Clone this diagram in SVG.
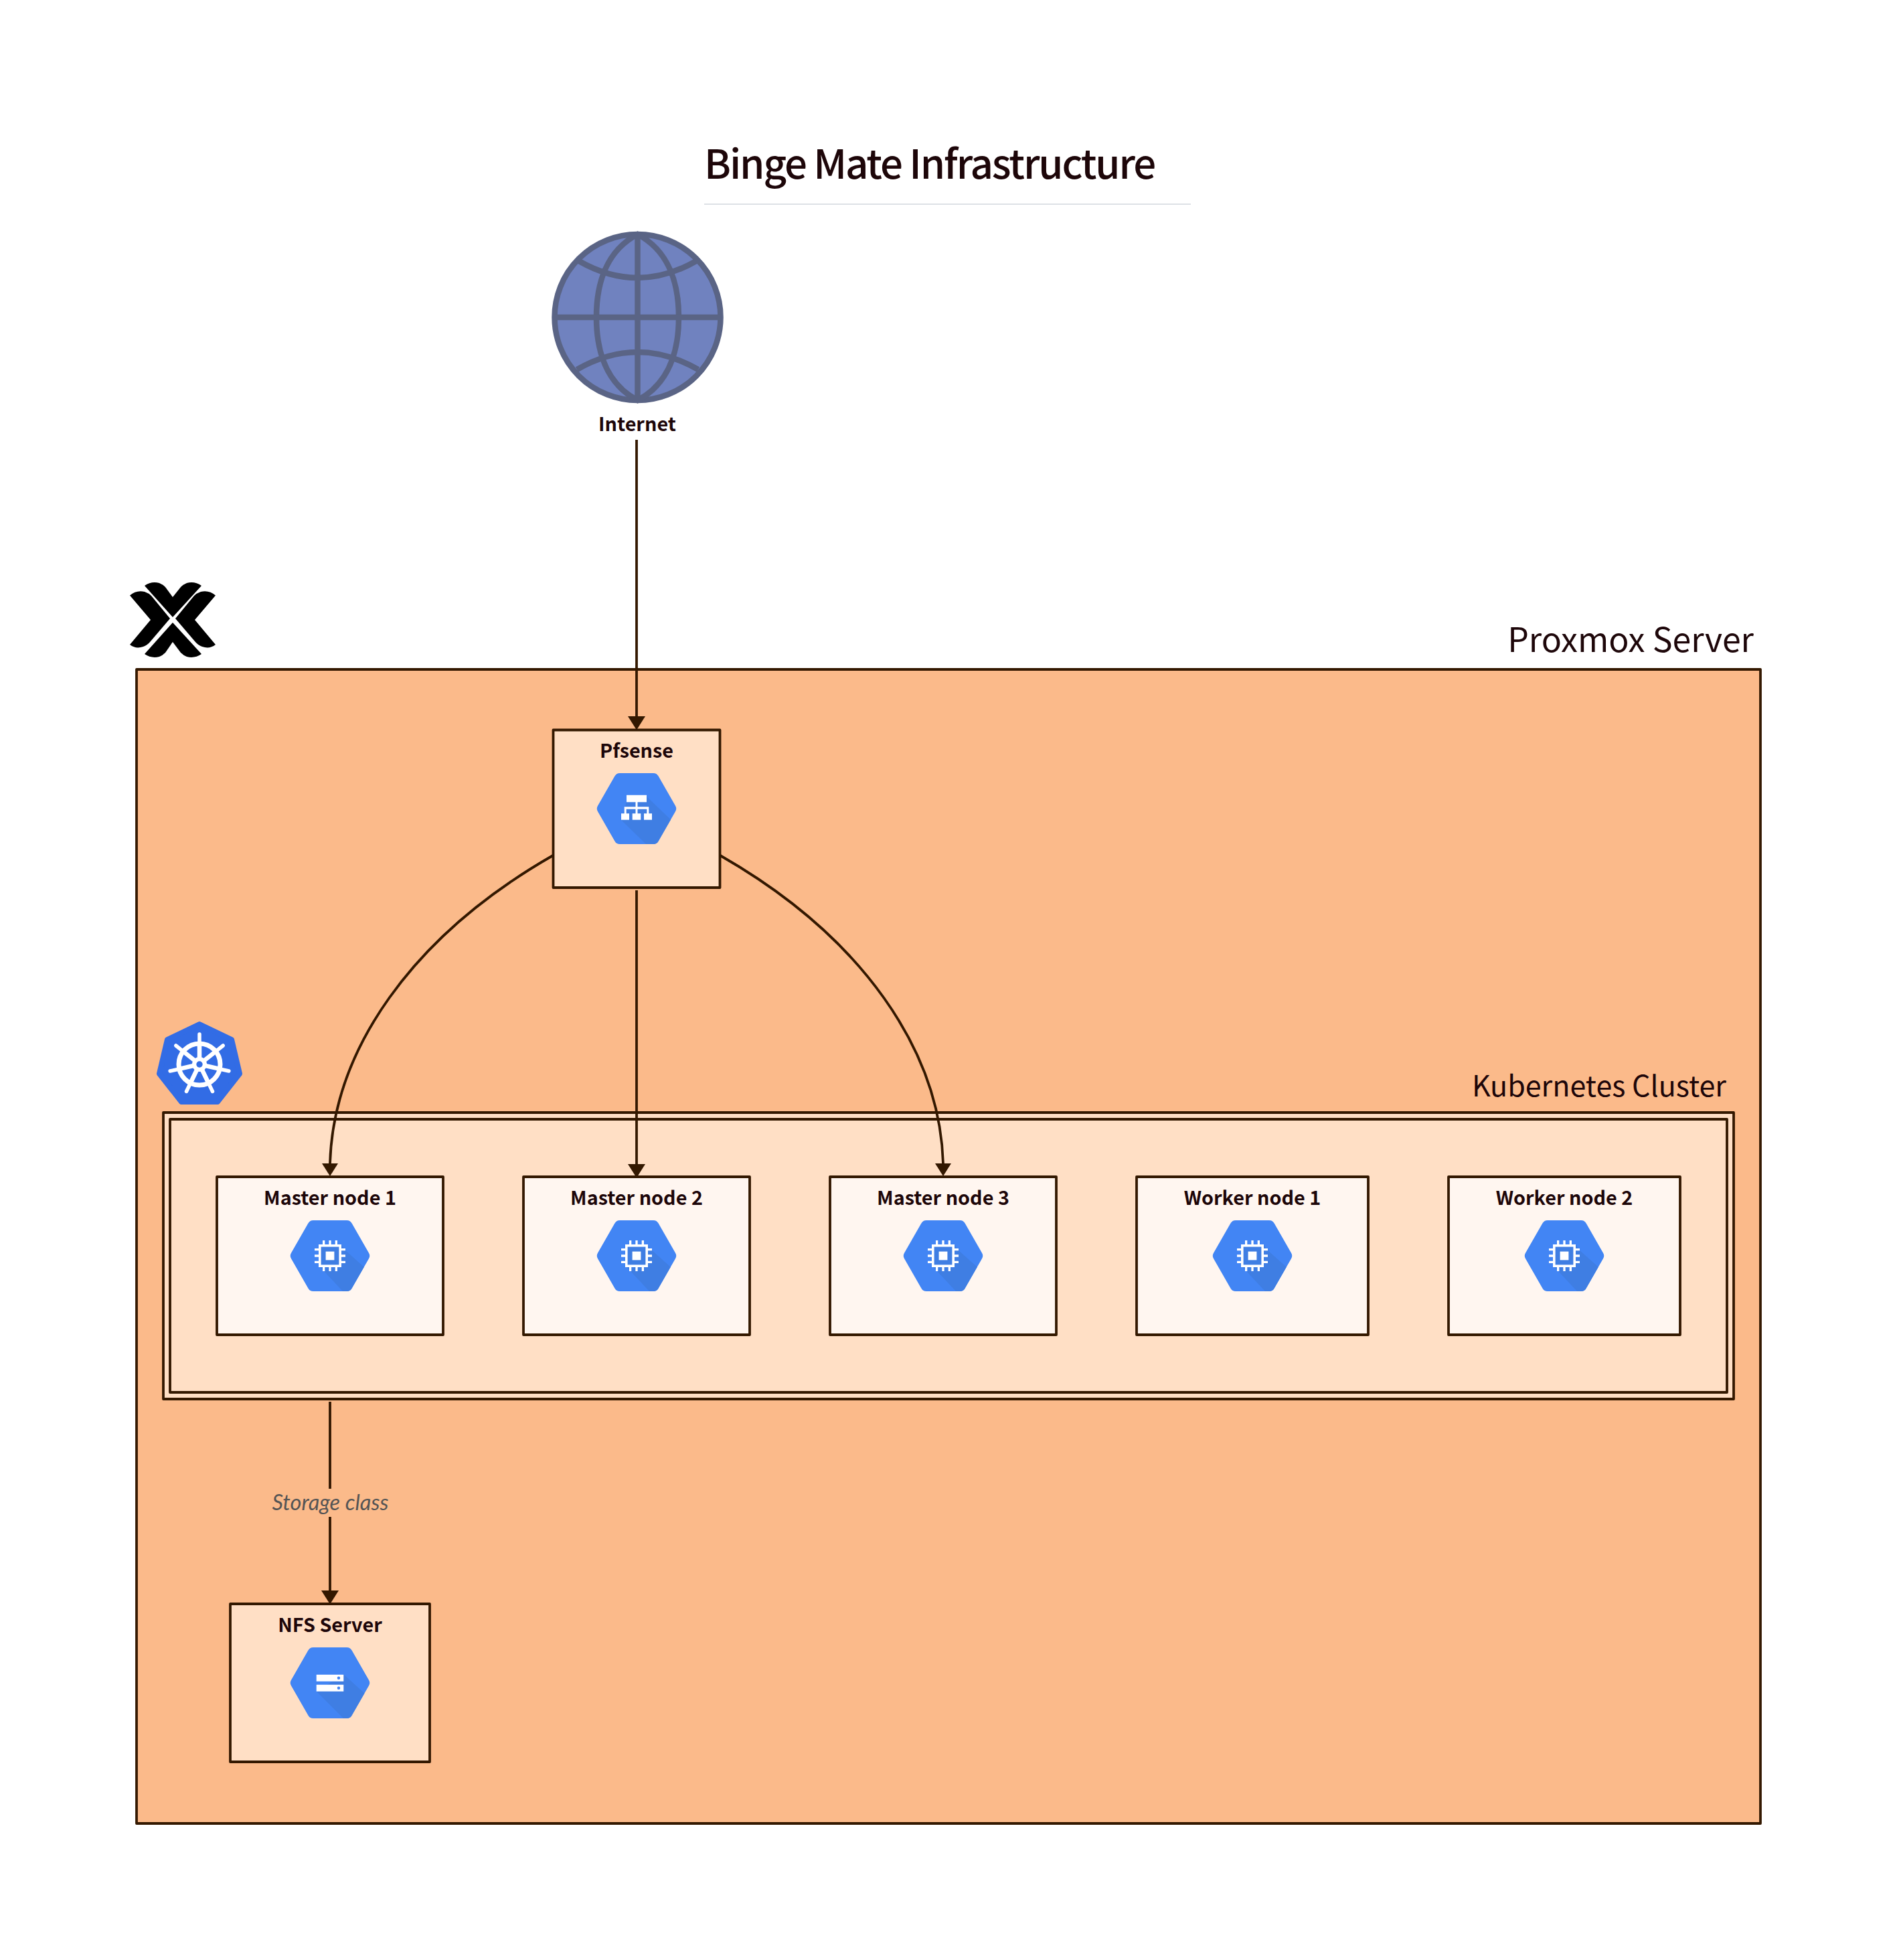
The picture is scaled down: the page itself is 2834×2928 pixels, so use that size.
<svg xmlns="http://www.w3.org/2000/svg" xmlns:xlink="http://www.w3.org/1999/xlink" width="2834" height="2928" viewBox="0 0 2834 2928">
<style>
text{font-family:"Noto Sans CJK SC","Noto Sans",sans-serif;fill:#1d0609}
.n{font-size:28.8px;font-weight:700;text-anchor:middle}
.box{stroke:#331800;stroke-width:3.8;stroke-linejoin:round}
.big{font-weight:400;text-anchor:end}
.c{fill:none;stroke:#331800;stroke-width:3.8}
.h{fill:#4285f4}.s{fill:#3f7ee3}.w{fill:#fff}
</style>
<defs>
<marker id="a" markerUnits="userSpaceOnUse" markerWidth="24" markerHeight="26" refX="0" refY="12" orient="auto" viewBox="0 0 20 24"><path d="M0,0L19,12L0,24Z" fill="#331800"/></marker>
<marker id="d" markerUnits="userSpaceOnUse" markerWidth="24" markerHeight="26" refX="12" refY="0" orient="0" viewBox="0 0 24 20"><path d="M0,0H24L12,19Z" fill="#331800"/></marker>
<path id="hex" d="M-58,-4.3L-32.5,-48.7Q-30,-53-25,-53L25,-53Q30,-53 32.5,-48.7L58,-4.3Q60.5,0 58,4.3L32.5,48.7Q30,53 25,53L-25,53Q-30,53-32.5,48.7L-58,4.3Q-60.5,0-58,-4.3Z"/>
<clipPath id="hc"><use xlink:href="#hex"/></clipPath>
<g id="chip">
<use xlink:href="#hex" class="h"/>
<path class="s" clip-path="url(#hc)" d="M17,-17L22,-9L60,25L31,60L19,53L-8,24L-15,17Z"/>
<rect x="-15.2" y="-15.2" width="30.4" height="30.4" fill="#3f7ee3" stroke="#fff" stroke-width="3.6"/>
<rect x="-6.4" y="-6.4" width="12.8" height="12.8" class="w"/>
<path class="w" d="M-11,-23h3.3v6h-3.3zM-1.65,-23h3.3v6h-3.3zM7.7,-23h3.3v6h-3.3zM-11,17h3.3v6h-3.3zM-1.65,17h3.3v6h-3.3zM7.7,17h3.3v6h-3.3zM-23,-11h6v3.3h-6zM-23,-1.65h6v3.3h-6zM-23,7.7h6v3.3h-6zM17,-11h6v3.3h-6zM17,-1.65h6v3.3h-6zM17,7.7h6v3.3h-6z"/>
</g>
</defs>

<rect width="2834" height="2928" fill="#fff"/>

<g id="title">
<text x="1052" y="267" font-size="60" font-weight="500" letter-spacing="-2.1">Binge Mate Infrastructure</text>
<path d="M1052,305H1779" stroke="#dde1e6" stroke-width="2"/>
</g>

<g id="internet">
<g fill="none" stroke="#5a6485" stroke-width="8.5">
<circle cx="952.5" cy="474" r="124" fill="#7082bf"/>
<path d="M952.5,350C905,375 891,425 891,474C891,523 905,573 952.5,598C1000,573 1014,523 1014,474C1014,425 1000,375 952.5,350Z"/>
<path d="M952.5,350V598M828,474H1077M865,390Q952.5,440 1040,390M862,552Q952.5,500 1043,552"/>
</g>
<text class="n" x="952" y="643.5">Internet</text>
</g>

<g id="proxmox-server">
<rect class="box" x="204" y="1000" width="2426" height="1724" fill="#fbba8a"/>
<text class="big" x="2620" y="974" font-size="50">Proxmox Server</text>
<g id="proxmox-logo" fill="#000">
<path d="M194,889.5Q204,881 216,884Q222,886 226,890L254,924L225,958Q220,964 214,966Q203,970 194,963L225,926Z"/>
<path d="M322,889.5Q312,881 300,884Q294,886 290,890L262,924L291,958Q296,964 302,966Q313,970 322,963L291,926Z"/>
<path d="M216,875Q226,868 238,871Q243,873 247,877L258,892L270,877Q274,873 279,871Q291,868 301,875L258,922Z"/>
<path d="M216,977Q226,984 238,981Q243,979 247,975L258,959L270,975Q274,979 279,981Q291,984 301,977L258,930Z"/>
</g>
</g>

<g id="pfsense">
<rect class="box" x="826.5" y="1090.5" width="249" height="235.5" fill="#ffdfc5"/>
<text class="n" x="951" y="1132">Pfsense</text>
<g transform="translate(951,1208)">
<use xlink:href="#hex" class="h"/>
<path class="s" clip-path="url(#hc)" d="M14,-19L62,27L31,60L14,53L-23,17L-15,-10Z"/>
<path class="w" d="M-15,-20.3H15V-9.7H1.5V-2.7H18.3V7.3H23V16.7H11V7.3H15.3V0.7H1.5V7.3H6.3V16.7H-6.3V7.3H-1.5V0.7H-15.3V7.3H-11V16.7H-23V7.3H-18.3V-2.7H-1.5V-9.7H-15Z"/>
</g>
</g>

<g id="kubernetes-cluster">
<rect class="box" x="244" y="1662" width="2346" height="428" fill="#ffdfc5"/>
<rect class="box" x="254" y="1672" width="2326" height="408" fill="#ffdfc5"/>
<text class="big" x="2579" y="1637.5" font-size="43">Kubernetes Cluster</text>
<g id="kubernetes-logo" transform="translate(298,1590)">
<path fill="#326ce5" stroke="#326ce5" stroke-width="8" stroke-linejoin="round" d="M0,-60L48,-37L60,14L27,56H-27L-60,14L-48,-37Z"/>
<g stroke="#fff" fill="none" stroke-linecap="round">
<circle r="31" stroke-width="7"/>
<path stroke-width="5.5" d="M0,-45V-30M35.2,-28L23.5,-18.7M43.9,10L29.2,6.7M19.5,40.5L13,27M-19.5,40.5L-13,27M-43.9,10L-29.2,6.7M-35.2,-28L-23.5,-18.7"/>
<path stroke-width="6.5" d="M0,-30V0M23.5,-18.7L0,0M29.2,6.7L0,0M13,27L0,0M-13,27L0,0M-29.2,6.7L0,0M-23.5,-18.7L0,0"/>
</g>
<circle r="11" fill="#fff"/>
<circle r="4.7" fill="#326ce5"/>
</g>
</g>

<g id="master-node-1">
<rect class="box" x="324" y="1758" width="338" height="236" fill="#fff6f0"/>
<text class="n" x="493" y="1799.5">Master node 1</text>
<use xlink:href="#chip" x="493" y="1876"/>
</g>
<g id="master-node-2">
<rect class="box" x="782" y="1758" width="338" height="236" fill="#fff6f0"/>
<text class="n" x="951" y="1799.5">Master node 2</text>
<use xlink:href="#chip" x="951" y="1876"/>
</g>
<g id="master-node-3">
<rect class="box" x="1240" y="1758" width="338" height="236" fill="#fff6f0"/>
<text class="n" x="1409" y="1799.5">Master node 3</text>
<use xlink:href="#chip" x="1409" y="1876"/>
</g>
<g id="worker-node-1">
<rect class="box" x="1698" y="1758" width="346" height="236" fill="#fff6f0"/>
<text class="n" x="1871" y="1799.5">Worker node 1</text>
<use xlink:href="#chip" x="1871" y="1876"/>
</g>
<g id="worker-node-2">
<rect class="box" x="2164" y="1758" width="346" height="236" fill="#fff6f0"/>
<text class="n" x="2337" y="1799.5">Worker node 2</text>
<use xlink:href="#chip" x="2337" y="1876"/>
</g>

<g id="nfs-server">
<rect class="box" x="344" y="2396" width="298" height="236" fill="#ffdfc5"/>
<text class="n" x="493" y="2438">NFS Server</text>
<g transform="translate(493,2514)">
<use xlink:href="#hex" class="h"/>
<path class="s" clip-path="url(#hc)" d="M20,-13L62,25L31,60L20,53L-20,13Z"/>
<path class="w" d="M-20.3,-12.3H20.3V-2.3H-20.3ZM-20.3,2.7H20.3V12.7H-20.3Z"/>
<circle cx="13" cy="-7.3" r="2.2" class="h"/>
<circle cx="13" cy="7.7" r="2.2" class="h"/>
</g>
</g>

<g id="connectors">
<path class="c" marker-end="url(#a)" d="M951,657V1070"/>
<path class="c" marker-end="url(#a)" d="M951,1330V1739"/>
<path class="c" marker-end="url(#d)" d="M826,1278C613,1400 498,1570 493,1738"/>
<path class="c" marker-end="url(#d)" d="M1076,1278C1289,1400 1404,1570 1409,1738"/>
<path class="c" d="M493,2094V2224"/>
<path class="c" marker-end="url(#a)" d="M493,2266V2376"/>
<text x="493.5" y="2256" font-size="32.5" font-style="italic" text-anchor="middle" style="font-family:Lato,sans-serif;font-weight:400;fill:#555">Storage class</text>
</g>
</svg>
